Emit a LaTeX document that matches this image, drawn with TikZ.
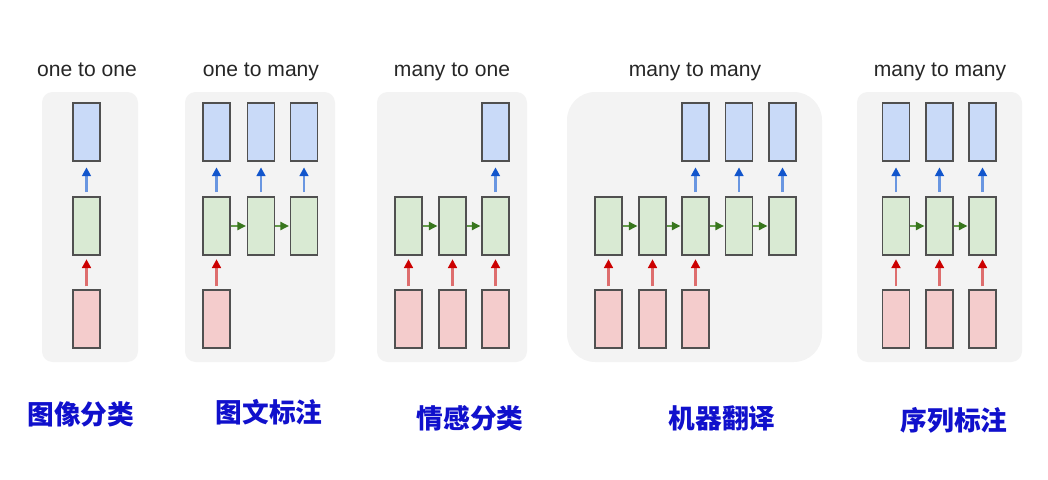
\documentclass[tikz,border=0pt]{standalone}
\usepackage{fontspec}
\setmainfont{Liberation Sans}
\newfontfamily\cjk{Noto Sans CJK SC}
\usetikzlibrary{arrows.meta}
\definecolor{panelgray}{RGB}{243,243,243}
\definecolor{cellborder}{RGB}{80,80,80}
\definecolor{infill}{RGB}{244,204,204}
\definecolor{hidfill}{RGB}{217,234,211}
\definecolor{outfill}{RGB}{201,218,248}
\definecolor{inline}{RGB}{222,110,110}
\definecolor{inhead}{RGB}{204,0,0}
\definecolor{outline}{RGB}{105,150,225}
\definecolor{outhead}{RGB}{17,85,204}
\definecolor{stateline}{RGB}{100,155,75}
\definecolor{statehead}{RGB}{56,118,29}
\definecolor{tasklabel}{RGB}{16,16,204}

\begin{document}
\begin{tikzpicture}
[x=0.02cm, y=-0.02cm,
panel/.style={fill=panelgray, rounded corners=6pt},
cell/.style={draw=cellborder, line width=0.85pt, minimum width=0.54cm, minimum height=1.16cm, inner sep=0pt},
input cell/.style={cell, fill=infill},
hidden cell/.style={cell, fill=hidfill},
output cell/.style={cell, fill=outfill},
input arrow/.style={draw=inline, line width=1.3pt, shorten <=1.7pt, shorten >=2pt, -{Triangle[length=5pt, width=5pt, color=inhead]}},
output arrow/.style={draw=outline, line width=1.3pt, shorten <=2.3pt, shorten >=3.2pt, -{Triangle[length=5pt, width=5pt, color=outhead]}},
state arrow/.style={draw=stateline, line width=1.3pt, shorten >=0.4pt, -{Triangle[length=5pt, width=4.6pt, color=statehead]}},
title/.style={anchor=base, text=black!85, font=\fontsize{12}{14}\selectfont},
task/.style={text=tasklabel, font=\cjk\bfseries\fontsize{15.2}{18}\selectfont}]
\useasboundingbox (0,0) rectangle (1048,480);
\fill[panel] (42,92) rectangle (138,362);
\fill[panel] (185,92) rectangle (335,362);
\fill[panel] (377,92) rectangle (527,362);
\fill[panel, rounded corners=16pt] (567,92) rectangle (822,362);
\fill[panel] (857,92) rectangle (1022,362);
\node[title] (t-oo) at (87,76) {one to one};
\node[title] (t-om) at (261,76) {one to many};
\node[title] (t-mo) at (452,76) {many to one};
\node[title] (t-mm) at (695,76) {many to many};
\node[title] (t-sl) at (940,76) {many to many};
\node[output cell] (oo-y) at (86.5,132) {};
\node[hidden cell] (oo-h) at (86.5,226) {};
\node[input cell] (oo-x) at (86.5,319) {};
\draw[input arrow] (oo-x) -- (oo-h);
\draw[output arrow] (oo-h) -- (oo-y);
\node[output cell] (om-y1) at (216.5,132) {};
\node[output cell] (om-y2) at (261,132) {};
\node[output cell] (om-y3) at (304,132) {};
\node[hidden cell] (om-h1) at (216.5,226) {};
\node[hidden cell] (om-h2) at (261,226) {};
\node[hidden cell] (om-h3) at (304,226) {};
\node[input cell] (om-x1) at (216.5,319) {};
\draw[input arrow] (om-x1) -- (om-h1);
\draw[output arrow] (om-h1) -- (om-y1);
\draw[output arrow] (om-h2) -- (om-y2);
\draw[output arrow] (om-h3) -- (om-y3);
\draw[state arrow] (om-h1) -- (om-h2);
\draw[state arrow] (om-h2) -- (om-h3);
\node[output cell] (mo-y3) at (495.5,132) {};
\node[hidden cell] (mo-h1) at (408.5,226) {};
\node[hidden cell] (mo-h2) at (452.5,226) {};
\node[hidden cell] (mo-h3) at (495.5,226) {};
\node[input cell] (mo-x1) at (408.5,319) {};
\node[input cell] (mo-x2) at (452.5,319) {};
\node[input cell] (mo-x3) at (495.5,319) {};
\draw[input arrow] (mo-x1) -- (mo-h1);
\draw[input arrow] (mo-x2) -- (mo-h2);
\draw[input arrow] (mo-x3) -- (mo-h3);
\draw[output arrow] (mo-h3) -- (mo-y3);
\draw[state arrow] (mo-h1) -- (mo-h2);
\draw[state arrow] (mo-h2) -- (mo-h3);
\node[output cell] (mm-y3) at (695.5,132) {};
\node[output cell] (mm-y4) at (739,132) {};
\node[output cell] (mm-y5) at (782.5,132) {};
\node[hidden cell] (mm-h1) at (608.5,226) {};
\node[hidden cell] (mm-h2) at (652.5,226) {};
\node[hidden cell] (mm-h3) at (695.5,226) {};
\node[hidden cell] (mm-h4) at (739,226) {};
\node[hidden cell] (mm-h5) at (782.5,226) {};
\node[input cell] (mm-x1) at (608.5,319) {};
\node[input cell] (mm-x2) at (652.5,319) {};
\node[input cell] (mm-x3) at (695.5,319) {};
\draw[input arrow] (mm-x1) -- (mm-h1);
\draw[input arrow] (mm-x2) -- (mm-h2);
\draw[input arrow] (mm-x3) -- (mm-h3);
\draw[output arrow] (mm-h3) -- (mm-y3);
\draw[output arrow] (mm-h4) -- (mm-y4);
\draw[output arrow] (mm-h5) -- (mm-y5);
\draw[state arrow] (mm-h1) -- (mm-h2);
\draw[state arrow] (mm-h2) -- (mm-h3);
\draw[state arrow] (mm-h3) -- (mm-h4);
\draw[state arrow] (mm-h4) -- (mm-h5);
\node[output cell] (sl-y1) at (896,132) {};
\node[output cell] (sl-y2) at (939.5,132) {};
\node[output cell] (sl-y3) at (982.5,132) {};
\node[hidden cell] (sl-h1) at (896,226) {};
\node[hidden cell] (sl-h2) at (939.5,226) {};
\node[hidden cell] (sl-h3) at (982.5,226) {};
\node[input cell] (sl-x1) at (896,319) {};
\node[input cell] (sl-x2) at (939.5,319) {};
\node[input cell] (sl-x3) at (982.5,319) {};
\draw[input arrow] (sl-x1) -- (sl-h1);
\draw[input arrow] (sl-x2) -- (sl-h2);
\draw[input arrow] (sl-x3) -- (sl-h3);
\draw[output arrow] (sl-h1) -- (sl-y1);
\draw[output arrow] (sl-h2) -- (sl-y2);
\draw[output arrow] (sl-h3) -- (sl-y3);
\draw[state arrow] (sl-h1) -- (sl-h2);
\draw[state arrow] (sl-h2) -- (sl-h3);
\node[task] (k-oo) at (81,414) {图像分类};
\node[task] (k-om) at (269,412) {图文标注};
\node[task] (k-mo) at (470,418) {情感分类};
\node[task] (k-mm) at (722,418) {机器翻译};
\node[task] (k-sl) at (954,420) {序列标注};
\end{tikzpicture}
\end{document}
